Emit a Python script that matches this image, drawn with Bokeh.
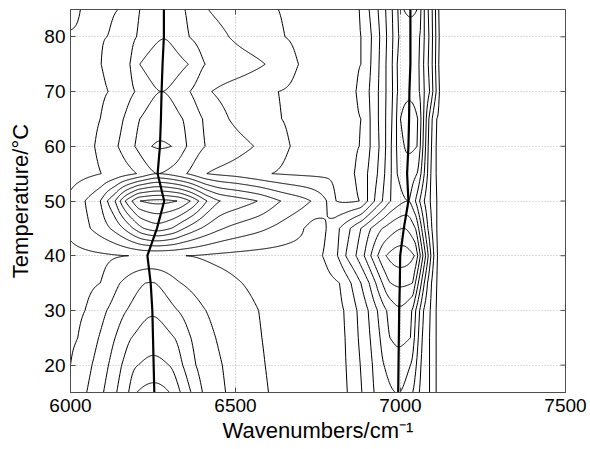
import numpy as np
from bokeh.plotting import figure
from bokeh.models import FixedTicker
from bokeh.embed import file_html
from bokeh.resources import INLINE

# Temperatures at which spectra were recorded (degC)
temps = [15, 20, 25, 30, 35, 40, 45, 50, 55, 60, 65, 70, 75, 80, 85]

# Each row: (wavenumber / cm-1, intensity in contour-level units)
row_15 = [(6000, 1.35), (6049, 2), (6100, 3), (6140, 4), (6176, 5), (6201, 6), (6254, 6.42), (6300, 6), (6333, 5), (6365, 4), (6400, 3), (6470, 2), (6600, 1), (6700, 0.55), (6790, 0.75), (6839, 1), (6883, 2), (6920, 3), (6993, 4.02), (7037, 3), (7057, 2), (7088, 1), (7108, 0), (7160, -0.4), (7500, -0.6)]
row_20 = [(6000, 1.0), (6065, 2), (6115, 3), (6155, 4), (6205, 5), (6252, 5.25), (6298, 5), (6340, 4), (6380, 3), (6460, 2), (6590, 1), (6700, 0.55), (6790, 0.75), (6835, 1), (6878, 2), (6915, 3), (6950, 4), (6994, 4.6), (7030, 4), (7048, 3), (7062, 2), (7088, 1), (7108, 0), (7160, -0.4), (7500, -0.6)]
row_25 = [(6000, 0.85), (6022, 1), (6085, 2), (6135, 3), (6185, 4), (6250, 4.55), (6315, 4), (6365, 3), (6440, 2), (6580, 1), (6700, 0.55), (6795, 0.75), (6832, 1), (6872, 2), (6908, 3), (6938, 4), (6968, 5), (6995, 5.2), (7030, 5), (7042, 4), (7054, 3), (7066, 2), (7088, 1), (7108, 0), (7160, -0.4), (7500, -0.6)]
row_30 = [(6000, 0.8), (6044, 1), (6110, 2), (6170, 3), (6248, 3.85), (6325, 3), (6410, 2), (6570, 1), (6700, 0.55), (6795, 0.75), (6828, 1), (6868, 2), (6902, 3), (6930, 4), (6958, 5), (6996, 5.8), (7034, 5), (7046, 4), (7058, 3), (7070, 2), (7090, 1), (7108, 0), (7160, -0.4), (7500, -0.6)]
row_35 = [(6000, 0.75), (6090, 1), (6150, 2), (6243, 3.05), (6335, 2), (6520, 1), (6700, 0.55), (6790, 0.8), (6815, 1), (6850, 2), (6880, 3), (6905, 4), (6925, 5), (6945, 6), (6970, 7), (6998, 7.2), (7036, 7), (7045, 6), (7054, 5), (7063, 4), (7072, 3), (7082, 2), (7094, 1), (7110, 0), (7160, -0.4), (7500, -0.6)]
row_40 = [(6000, 0.7), (6100, 0.85), (6176, 1.0), (6233, 1.04), (6350, 1.0), (6450, 0.8), (6650, 0.6), (6763, 1), (6809, 2), (6834, 3), (6865, 4), (6890, 5), (6910, 6), (6931, 7), (6956, 8), (6999, 8.6), (7042, 8), (7052, 7), (7060, 6), (7068, 5), (7076, 4), (7084, 3), (7092, 2), (7101, 1), (7112, 0), (7160, -0.4), (7500, -0.6)]
row_45 = [(6000, 1.24), (6060, 2), (6120, 3), (6160, 4), (6190, 5), (6222, 6), (6262, 6.5), (6305, 6), (6345, 5), (6395, 4), (6465, 3), (6600, 2), (6700, 1.1), (6740, 0.6), (6775, 1), (6815, 2), (6848, 3), (6880, 4), (6910, 5), (6945, 6), (7010, 7.0), (7045, 6), (7055, 5), (7064, 4), (7073, 3), (7083, 2), (7095, 1), (7110, 0), (7160, -0.4), (7500, -0.6)]
row_50 = [(6000, 1.25), (6044, 2), (6090, 3), (6112, 4), (6135, 5), (6150, 6), (6166, 7), (6186, 8), (6211, 9), (6270, 9.3), (6323, 9), (6363, 8), (6389, 7), (6414, 6), (6454, 5), (6510, 4.5), (6566, 4), (6637, 3), (6728, 2), (6776, 1), (6805, 0), (6835, -0.15), (6875, 0), (6900, 1), (6921, 2), (6945, 3), (6970, 4), (7024, 5.0), (7045, 4), (7058, 3), (7072, 2), (7090, 1), (7110, 0), (7160, -0.4), (7500, -0.6)]
row_55 = [(6000, 0.6), (6093, 1), (6200, 2), (6264, 3.0), (6352, 2), (6413, 1), (6500, 0.6), (6610, 0), (6750, -0.2), (6860, 0), (6900, 1), (6930, 2), (6952, 3), (6972, 4), (6990, 5), (7020, 5.5), (7050, 5), (7062, 4), (7072, 3), (7082, 2), (7092, 1), (7108, 0), (7160, -0.4), (7500, -0.6)]
row_60 = [(6000, 0.65), (6073, 1), (6144, 2), (6195, 3), (6246, 4), (6271, 4.1), (6306, 4), (6352, 3), (6408, 2), (6555, 1), (6666, 0), (6780, -0.2), (6875, 0), (6908, 1), (6935, 2), (6955, 3), (6972, 4), (6988, 5), (7024, 6.2), (7050, 6), (7060, 5), (7068, 4), (7076, 3), (7084, 2), (7094, 1), (7108, 0), (7160, -0.4), (7500, -0.6)]
row_65 = [(6000, 0.7), (6090, 1), (6160, 2), (6210, 3), (6274, 3.6), (6340, 3), (6400, 2), (6480, 1), (6640, 0), (6780, -0.2), (6880, 0), (6908, 1), (6933, 2), (6955, 3), (6974, 4), (6988, 5), (7000, 6), (7026, 6.8), (7052, 6), (7062, 5), (7070, 4), (7078, 3), (7086, 2), (7096, 1), (7110, 0), (7160, -0.4), (7500, -0.6)]
row_70 = [(6000, 0.75), (6114, 1), (6195, 2), (6276, 3.0), (6362, 2), (6428, 1), (6530, 0.5), (6630, 0), (6780, -0.2), (6865, 0), (6905, 1), (6933, 2), (6956, 3), (6976, 4), (6991, 5), (7027, 5.6), (7057, 5), (7072, 4), (7088, 3), (7098, 2), (7108, 1), (7118, 0), (7160, -0.4), (7500, -0.6)]
row_75 = [(6000, 0.8), (6093, 1), (6180, 2), (6210, 3), (6279, 3.6), (6357, 3), (6408, 2), (6590, 1), (6691, 0), (6790, -0.2), (6880, 0), (6910, 1), (6935, 2), (6956, 3), (6975, 4), (6990, 5), (7030, 5.5), (7056, 5), (7070, 4), (7084, 3), (7096, 2), (7106, 1), (7116, 0), (7160, -0.4), (7500, -0.6)]
row_80 = [(6000, 0.95), (6110, 1), (6200, 2), (6283, 2.95), (6360, 2), (6480, 1), (6560, 0.5), (6650, 0), (6780, -0.2), (6880, 0), (6912, 1), (6937, 2), (6958, 3), (6977, 4), (6995, 5), (7030, 5.2), (7058, 5), (7072, 4), (7086, 3), (7097, 2), (7107, 1), (7117, 0), (7160, -0.4), (7500, -0.6)]
row_85 = [(6000, 1.15), (6030, 1), (6080, 0.9), (6144, 1), (6210, 2), (6283, 2.6), (6347, 2), (6418, 1), (6520, 0.5), (6630, 0), (6780, -0.2), (6875, 0), (6905, 1), (6932, 2), (6955, 3), (6975, 4), (6992, 5), (7010, 6), (7030, 6.3), (7050, 6), (7062, 5), (7072, 4), (7084, 3), (7096, 2), (7106, 1), (7116, 0), (7160, -0.4), (7500, -0.6)]

# Peak maxima of the two bands at each temperature
ridge_a = [6254, 6252, 6250, 6248, 6243, 6233, 6262, 6284, 6264, 6271, 6274, 6276, 6279, 6283, 6283]
ridge_b = [6993, 6994, 6995, 6996, 6998, 6999, 7010, 7024, 7020, 7024, 7026, 7027, 7030, 7030, 7030]

levels = [0, 1, 2, 3, 4, 5, 6, 7, 8, 9]

x_ticks = [6000, 6500, 7000, 7500]
y_ticks = [20, 30, 40, 50, 60, 70, 80]

rows = [row_15, row_20, row_25, row_30, row_35, row_40, row_45, row_50,
        row_55, row_60, row_65, row_70, row_75, row_80, row_85]


def pchip(xk, yk, x):
    """Shape-preserving piecewise cubic Hermite interpolation."""
    xk = np.asarray(xk, float)
    yk = np.asarray(yk, float)
    h = np.diff(xk)
    d = np.diff(yk) / h
    n = len(xk)
    m = np.zeros(n)
    for k in range(1, n - 1):
        if d[k - 1] * d[k] > 0:
            w1 = 2 * h[k] + h[k - 1]
            w2 = h[k] + 2 * h[k - 1]
            m[k] = (w1 + w2) / (w1 / d[k - 1] + w2 / d[k])
    m[0] = d[0]
    m[-1] = d[-1]
    idx = np.clip(np.searchsorted(xk, x) - 1, 0, n - 2)
    t = (x - xk[idx]) / h[idx]
    h00 = 2 * t**3 - 3 * t**2 + 1
    h10 = t**3 - 2 * t**2 + t
    h01 = -2 * t**3 + 3 * t**2
    h11 = t**3 - t**2
    return (h00 * yk[idx] + h10 * h[idx] * m[idx]
            + h01 * yk[idx + 1] + h11 * h[idx] * m[idx + 1])


wn = np.arange(6000, 7501, 2.0)
Z = np.array([pchip([a for a, _ in r], [b for _, b in r], wn) for r in rows])

FONT = "Liberation Sans"
AXIS_GREY = "#4d4d4d"

W, H = 590, 449
BL, BR, BT, BB = 70, 25, 9, 57
x0, x1 = 6000, 7500
y0, y1 = 15, 85

p = figure(width=W, height=H, x_range=(x0, x1), y_range=(y0, y1),
           output_backend="svg", toolbar_location=None,
           min_border_left=BL, min_border_right=BR, min_border_top=BT,
           min_border_bottom=BB, background_fill_color="white",
           border_fill_color="white")

p.contour(x=wn, y=temps, z=Z, levels=levels, line_color="black",
          line_width=1.0)
p.line(ridge_a, temps, line_color="black", line_width=2.2)
p.line(ridge_b, temps, line_color="black", line_width=2.2)

xt = FixedTicker(ticks=x_ticks)
yt = FixedTicker(ticks=y_ticks)
bottom = p.below[0]
left = p.left[0]
bottom.ticker = xt
left.ticker = yt

for ax in (bottom, left):
    ax.major_tick_in = 5
    ax.major_tick_out = 0
    ax.minor_tick_line_color = None
    ax.axis_line_color = AXIS_GREY
    ax.major_tick_line_color = AXIS_GREY
    ax.major_label_text_font = FONT
    ax.major_label_text_color = "black"
    ax.major_label_text_font_size = "19px"
    ax.axis_label_text_font = FONT
    ax.axis_label_text_font_size = "22px"
    ax.axis_label_text_font_style = "normal"
    ax.axis_label_text_color = "black"

bottom.axis_label = "Wavenumbers/cm\u207b\u00b9"
left.axis_label = "Temperature/\u00b0C"
bottom.major_label_standoff = 6
left.major_label_standoff = 5
bottom.axis_label_standoff = 3
left.axis_label_standoff = 8

# inward tick marks on the top and right edges of the box
fw = W - BL - BR
fh = H - BT - BB
tx = 5 * (x1 - x0) / fw
ty = 5 * (y1 - y0) / fh
p.segment(x0=x_ticks, y0=[y1] * len(x_ticks), x1=x_ticks,
          y1=[y1 - ty] * len(x_ticks), line_color=AXIS_GREY, line_width=1)
p.segment(x0=[x1] * len(y_ticks), y0=y_ticks, x1=[x1 - tx] * len(y_ticks),
          y1=y_ticks, line_color=AXIS_GREY, line_width=1)

p.xgrid.ticker = xt
p.ygrid.ticker = yt
p.grid.grid_line_color = "#b8b8b8"
p.grid.grid_line_dash = "1 2"
p.grid.grid_line_width = 1
p.outline_line_color = AXIS_GREY

open("out.html", "w").write(file_html(p, INLINE))
